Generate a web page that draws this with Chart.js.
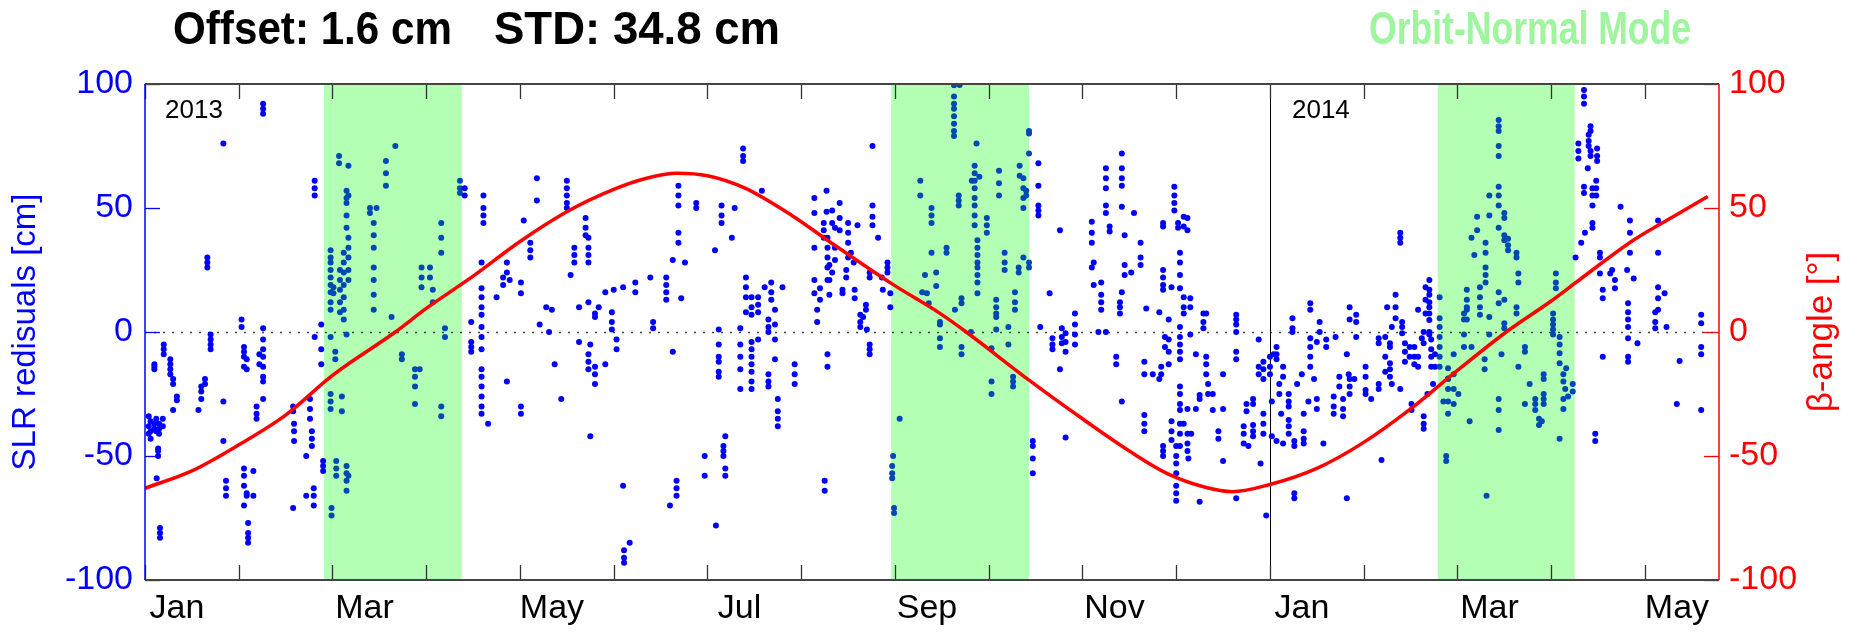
<!DOCTYPE html>
<html>
<head>
<meta charset="utf-8">
<script src="https://cdn.jsdelivr.net/npm/chart.js@4.4.1/dist/chart.umd.min.js"></script>
<style>
  html, body { margin: 0; padding: 0; background: #fff; }
  #wrap { width: 1867px; height: 632px; }
</style>
</head>
<body>
<div id="wrap"><canvas id="c" width="1867" height="632"></canvas></div>
<script>
// x unit = months since 1 Jan 2013
const monthNames = ['Jan','Feb','Mar','Apr','May','Jun','Jul','Aug','Sep','Oct','Nov','Dec'];
const xTickMonths = [0,1,2,3,4,5,6,7,8,9,10,11,12,13,14,15,16];
const yTicks = [-100, -50, 0, 50, 100];

// orbit-normal mode periods (start / end, months)
const onStart = [1.91, 7.96, 13.79];
const onEnd   = [3.38, 9.43, 15.25];

// beta angle
const betaMonth = [0, 0.5, 1.0, 1.5, 2.0, 2.67, 3.0, 3.5, 4.0, 4.5, 5.0, 5.35, 5.67, 6.0, 6.4, 6.9, 7.3, 7.96, 8.48, 8.76, 9.43, 10.0, 10.5, 10.9, 11.3, 11.6, 12.0, 12.5, 13.0, 13.5, 14.0, 14.52, 15.0, 15.25, 15.88, 16.3, 16.67];
const betaDeg   = [-63, -56, -45.5, -33.5, -17.5, 0, 9.5, 22.5, 36.5, 48.5, 57.5, 62, 64, 63, 58, 47, 36.5, 19.6, 7.5, 0, -19.4, -35, -48, -57, -62.5, -64.4, -61.5, -55, -44.5, -31, -15.5, 0, 12.5, 19.6, 37.1, 46.5, 54.6];

// SLR residuals, one entry per pass: [month, cm, cm, ...]
const passesJanApr13 = [
  [0.04,-34,-38,-41],[0.06,-36,-40,-43],[0.1,-13,-14,-15,-37,-39],[0.12,-35,-40],[0.125,-59],
  [0.14,-47,-48,-50],[0.15,-37,-39,-41],[0.16,-79,-81,-83],[0.19,-35,-38],[0.2,-5,-7,-9],
  [0.27,-11,-13,-15,-17],[0.3,-19,-21,-31.5],[0.34,-26,-27.5],[0.57,-31.5],[0.6,-22,-24,-27],
  [0.64,-19,-21],[0.665,30,28,26],[0.7,-1,-3,-5,-7],[0.836,76,-28,-44],[0.864,-60,-63,-66],
  [1.03,5,2],[1.056,-6,-8,-10,-14,-55,-58,-62,-70],[1.085,-11,-15,-65,-66],[1.1,-77,-81,-83,-85],
  [1.156,-56,-66],[1.19,-30,-33,-35],[1.22,-9,-13],[1.26,92,90,88,1.5,-3,-7,-10,-14,-18,-20,-27],
  [1.58,-30,-32,-71],[1.59,-37,-40,-44],[1.72,-50,-66],[1.76,-27,-31,-35],[1.78,-40,-43,-46],
  [1.8,-63,-66,-70],[1.81,61,58,55,-2],[1.88,3,-7,-13],[1.9,-52,-54,-56],
  [1.98,33,30,28,25,22,19,16,12,9,-25,-28,-31,-2],[1.99,-71,-74],[2.01,18,15.6],[2.03,-8,-11],
  [2.04,-52,-55,-58],[2.07,71,68],[2.08,25,21,17,12,8],[2.1,-26,-32],[2.12,32,28,24,19,14,9,5],
  [2.15,57,54,52,47,42,-54,-57,-60,-64,-1],[2.17,67,55,38,30,25,21,34,-58],[2.4,50,48],
  [2.44,44,39,34,26,21,15,9],[2.47,50],[2.57,69,64,59],[2.67,75],[2.63,6],[2.74,-9,-11],
  [2.88,-15,-18,-22,-29],[2.93,-15],[2.95,26,22,18],[3.04,26,22],[3.07,17,12],
  [3.16,44,38,32,-30,-34],[3.2,1.5,-2],[3.36,61,58,56],[3.41,58,55]
];
const passesAprJul13 = [
  [3.48,4,-4,-6,-8],[3.59,28,17.6,14,10,7,2,-2,-7,-15,-18,-22,-26,-30,-33],[3.61,55,50,47,44],
  [3.66,-37],[3.75,14],[3.82,22,19],[3.86,28,24,-20],[3.89,21],[4.01,20,15.6,-30,-33],[4.04,45],
  [4.11,36,33,30],[4.18,62,53],[4.21,3],[4.28,10],[4.31,0],[4.34,9],[4.37,-13],[4.44,-27],
  [4.5,61,58,55,52,50],[4.54,23],[4.58,34,31,28],[4.63,10,-4],[4.7,46,42,39],
  [4.73,38,34,31,28,12,-9,-12,-15],[4.75,-42,-5],[4.8,7.5,6,-14,-17,-21],[4.84,10],[4.91,16,-13],
  [4.98,8,4,1],[5.0,17],[5.03,-3,-7],[5.1,18,-62],[5.11,-88,-91,-93],[5.17,-85],[5.23,20,16],
  [5.39,22],[5.42,4,1.5],[5.56,22,19,16,13],[5.6,-70],[5.63,29,-8],[5.67,-60,-63,-66],
  [5.69,59,55,51,40,36],[5.72,13.6],[5.76,28],[5.88,52,50],[5.97,-50,-58],[6.08,33],[6.09,-78],
  [6.12,1,-5,-10,-12,-16,-18],[6.15,51,47,44],[6.17,-46,-48,-50],[6.19,-42,-55,-58],[6.26,38],
  [6.29,50],[6.35,1.5,-5,-10,-15,-23],[6.38,74,71,69],[6.41,22,18,14,8],
  [6.47,14,10,7,-4,-7,-10,-13,-16,-20,-23],[6.54,14,11,8,-3],[6.58,57],[6.61,18],
  [6.65,5,2,0,-17,-20,-22],[6.68,20,16,13],[6.72,9,3,-3,-11],[6.75,-27,-32,-35,-38],[6.8,18]
];
const passesJulOct13 = [
  [6.93,-13,-17,-21],[7.14,54,48,34,21,15.6],[7.17,9,4],[7.2,17.6,13],[7.24,44,41,38],[7.25,-60,-64],
  [7.27,57,48.5],[7.28,38,34,30,26,21,-9,-14],[7.3,27,21,15],[7.33,49,44,24],[7.36,42,34,29],
  [7.41,52,46,41],[7.44,17,15.6],[7.48,25,22],[7.5,44,40,36,30],[7.53,32],[7.56,28],[7.57,17,13.6],
  [7.6,43],[7.63,7,4,2],[7.66,6],[7.69,11,9],[7.7,1],[7.73,-5,-7,-9,24,22],[7.76,75,51,46.5,43],
  [7.82,38],[7.86,22],[7.87,17],[7.92,28,26,24],[7.95,15.6,10],[7.97,-54,-57,-59],[7.98,-50],
  [7.99,-71,-73],[8.05,-35],[8.27,61,55],[8.29,16],[8.32,23],[8.34,15.6],[8.36,11.6],
  [8.39,50,47,44,32],[8.44,24,18.5],[8.48,4,3,-2.5,-6],[8.55,34,32],[8.63,99.5,95,92,90,87,84,81,79],
  [8.64,9],[8.68,55,53,51],[8.69,99.6],[8.71,13.6,11.6,-6,-9],[8.81,0],[8.82,61],
  [8.85,67,64,61,58,54,51,47,43],[8.87,76],[8.88,37,34,31,28,26,23,20,15.6],[8.9,62.6],
  [8.98,46,43,40],[9.03,-6.6,-20,-25],[9.08,13,10,7.5,6,1],[9.11,65,60,55],[9.17,32,28,25],
  [9.21,2,-5],[9.26,-18,-20,-22],[9.28,16,12,9],[9.32,26,24],[9.33,67,63],[9.37,62,58,54,50,30],
  [9.4,57,55],[9.43,81,80,72,28,26],[9.47,-44,-46,-51,-57],[9.53,68,59,51,49,47],[9.55,2],
  [9.65,15.6],[9.68,-2.5,-5,-7],[9.76,41,-15],[9.78,1.5,-2,-4.5],[9.82,-0.5,-4,-8,-42.5],
  [9.92,7.5,3,-1,-5],[10.1,44.5,40,36,26],[10.12,28,19],[10.17,0]
];
const passesOctJan13 = [
  [10.2,15,12,9,20],[10.25,66,62,58,51,48,0],[10.29,42.5,40.5],[10.36,-10,-13],[10.4,12,10,7.5],
  [10.42,72,66,62,59,50.5,16,-28],[10.45,39,27,23],[10.52,24],[10.55,48],[10.62,36,30,27],
  [10.66,-12,-17,-33.5,-37,-40],[10.68,9.5],[10.75,-17],[10.82,8,-19],[10.84,-14,-17],
  [10.86,44,42.5,25,22,19,17,-46,-48,-50],[10.88,-2,-6],[10.92,5,-3,-8,-13],[10.95,18,-36,-40,-43.5],
  [10.98,58.6,55,52,49],[11.0,-46,-50,-53,-57,-62,-65,-68],[11.02,44,42],
  [11.04,32,28,23,17.6,2,-2,-5,-8,-11,-22,-25,-29,-31.5,-37,-41,-46],[11.08,46.5,42.5,14,10,7.5,-37],
  [11.12,46,41,-31,-41,-45,-48],[11.13,-51],[11.15,13.6,10,-1],[11.16,-41],[11.21,-9,-31],
  [11.25,-25.4,-27,-68.4],[11.29,7.5,4,1.5],[11.32,-10,-13,-17,7.5],[11.34,-21,-25],[11.39,-31.5,-25],
  [11.45,-40,-43],[11.5,-17,-52,-31],[11.64,7,5,3,0,-8,-11,-67],[11.72,-38,-41,-45],[11.75,-29,-32],
  [11.77,-46],[11.82,-27,-29,-37.5,-40,-42],[11.88,-3,-14,-17],[11.9,-53],[11.93,-12,-15,-19,-33,-37,-41],
  [11.96,-74]
];
const passesJanMay14 = [
  [12.0,-10,-14,-17],[12.02,-28,-42],[12.04,-9],[12.07,-44,-6,-9,-11],[12.1,-21,-25],[12.12,-33],
  [12.14,-14,-18,-45],[12.2,-25,-28,-30,-35.5,-38,-41],[12.24,5.5,1.5,0],[12.26,-65,-67,-44,-46],
  [12.29,-21],[12.34,-17],[12.36,-33,-40,-43,-45],[12.41,-28],[12.43,11.6,9,-2.5,-6,-10,-14],
  [12.47,-19],[12.5,-27,-31,-4],[12.53,4,0],[12.57,-45],[12.6,-3,-6],[12.68,-26,-30,-33],[12.7,-2],
  [12.74,-18,-22],[12.78,-27,-31,-34],[12.82,-9,-67],[12.84,-17],[12.85,10,5,-19,-22,-25],
  [12.92,7,4,-2],[12.9,-19],[13.02,-14,-18,-23.4,-25],[13.08,-27],[13.16,-2.5,-4.5,-21,-23],
  [13.19,-51.6],[13.23,-2,-10,-16],[13.25,10],[13.28,-4.5,-6,-12.6,-15,-18],[13.3,-21,2],
  [13.34,15,10,5.5],[13.39,40,38,36,-23],[13.41,4,2,-0.5],[13.44,-4.5,-8,-12],[13.49,-6,-10],
  [13.51,-29,-31.5],[13.54,-6,-10,-13],[13.58,9,-10,-14],[13.62,-2.5],[13.64,-34,-37,-39,0,-4.5],
  [13.66,18,13,7.5],[13.68,-25],[13.7,21,17,15,12,10,7.5,4.8,0,-1],[13.72,-3,-7,-10,-14],[13.74,-21],
  [13.76,-9,-14],[13.81,14,5.5,2,-2,-6,-10,-14],[13.85,-28],[13.88,-50,-52],
  [13.9,-14.6,-18.7,-19,-23,-28,-33],[13.96,-9,-17,-23,-29],[14.01,-25],[14.07,7.5,5,-1,-6],
  [14.1,17,13,9,10,5],[14.13,-36],[14.15,38,-6],[14.18,31],[14.21,46.5,41],[14.24,18,14,10,7],
  [14.29,-11,-15],[14.3,36,32,26,23,20],[14.31,-66],[14.34,55,47,6,-1],
  [14.44,85.5,83,81,75,71,58.6,55,51,42,16,11.6,-27,-31.5,-39.5],[14.47,-9],[14.5,39,37,3.5,1.5,48,46,13],
  [14.54,37.6,35,33],[14.63,32,30,10,7.5],[14.65,23.6,20,-14],[14.72,-6,-8,-29],[14.77,-21],
  [14.83,-27,-29,-31.5],[14.87,-35,-37.5],[14.9,-36],[14.92,-17,-19,-25,-27,-29],[15.02,7.5,5,3,1,-1],
  [15.05,23.6,20,17.6],[15.09,-43,-2,-5,-8.6,-12.6],[15.13,-17,-20,-27,-31],[15.15,-23],[15.16,-14.6],
  [15.18,-26],[15.23,-21,-24],[15.26,30],[15.29,76,73,70],[15.32,36],[15.35,97.6,95,92,58.6,56],
  [15.36,40],[15.39,66],[15.4,79.5,77,75],[15.42,83,81,73,71],[15.44,58,55,51,44,42],[15.47,-41,-44],
  [15.48,61,58,55],[15.49,74,71,69],[15.52,32,30,23.6],[15.55,17,13.6,-10],[15.63,23.6],[15.65,25],
  [15.68,21,17.6],[15.74,50.5],[15.81,25],[15.82,11.6,8,5,2,-2.5,-10,-12],[15.84,45,40,32],[15.88,21.6],
  [15.92,-4.5],[16.11,8,4,1.5],[16.14,45,32,18,13.6,9],[16.21,15.6],[16.23,2],[16.34,-29],[16.37,-11.7],
  [16.6,7,3.5,-6,-9,-31.5]
];

const allPasses = [].concat(passesJanApr13, passesAprJul13, passesJulOct13, passesOctJan13, passesJanMay14);
const slrPoints = [];
allPasses.forEach(p => {
  for (let i = 1; i < p.length; i++) slrPoints.push({x: p[0], y: p[i]});
});
const betaPoints = betaMonth.map((m, i) => ({x: m, y: betaDeg[i]}));

function inOrbitNormal(m) {
  for (let i = 0; i < onStart.length; i++) {
    if (m >= onStart[i] && m <= onEnd[i]) return true;
  }
  return false;
}

const BLUE = '#0000ff';
const RED = '#ff0000';
const LABEL_FONT = '"Liberation Sans", Arial, sans-serif';

// green bands, zero line, box, inside ticks and free texts
const decorations = {
  id: 'decorations',
  beforeDatasetsDraw(chart) {
    const {ctx, chartArea: a, scales} = chart;
    const x = scales.x, y = scales.y;
    ctx.save();
    ctx.fillStyle = '#b3ffb3';
    for (let i = 0; i < onStart.length; i++) {
      const x0 = x.getPixelForValue(onStart[i]);
      const x1 = x.getPixelForValue(onEnd[i]);
      ctx.fillRect(x0, a.top, x1 - x0, a.bottom - a.top);
    }
    // zero line
    const y0 = Math.round(y.getPixelForValue(0)) + 0.5;
    ctx.strokeStyle = '#444';
    ctx.lineWidth = 1.5;
    ctx.setLineDash([2, 7]);
    ctx.beginPath();
    ctx.moveTo(a.left, y0);
    ctx.lineTo(a.right, y0);
    ctx.stroke();
    ctx.setLineDash([]);
    // year boundary
    const xy = Math.round(x.getPixelForValue(12)) + 0.5;
    ctx.strokeStyle = '#000';
    ctx.lineWidth = 1;
    ctx.beginPath();
    ctx.moveTo(xy, a.top);
    ctx.lineTo(xy, a.bottom);
    ctx.stroke();
    ctx.restore();
  },
  afterDatasetsDraw(chart) {
    const {ctx, chartArea: a, scales} = chart;
    const x = scales.x, y = scales.y, y2 = scales.y2;
    const tl = 15;
    ctx.save();
    // x ticks, bottom and top, pointing in
    ctx.strokeStyle = '#333';
    ctx.lineWidth = 1.3;
    xTickMonths.forEach(m => {
      const px = Math.round(x.getPixelForValue(m)) + 0.5;
      ctx.beginPath();
      ctx.moveTo(px, a.bottom); ctx.lineTo(px, a.bottom - tl);
      ctx.moveTo(px, a.top); ctx.lineTo(px, a.top + tl);
      ctx.stroke();
    });
    // y ticks
    yTicks.forEach(v => {
      const py = Math.round(y.getPixelForValue(v)) + 0.5;
      ctx.strokeStyle = BLUE;
      ctx.beginPath(); ctx.moveTo(a.left, py); ctx.lineTo(a.left + tl, py); ctx.stroke();
      const py2 = Math.round(y2.getPixelForValue(v)) + 0.5;
      ctx.strokeStyle = RED;
      ctx.beginPath(); ctx.moveTo(a.right, py2); ctx.lineTo(a.right - tl, py2); ctx.stroke();
    });
    // box
    ctx.strokeStyle = '#444';
    ctx.lineWidth = 2;
    ctx.beginPath();
    ctx.moveTo(a.left, a.top); ctx.lineTo(a.right, a.top);
    ctx.moveTo(a.left, a.bottom); ctx.lineTo(a.right, a.bottom);
    ctx.stroke();
    ctx.lineWidth = 1.5;
    ctx.strokeStyle = BLUE;
    ctx.beginPath(); ctx.moveTo(a.left, a.top); ctx.lineTo(a.left, a.bottom); ctx.stroke();
    ctx.strokeStyle = RED;
    ctx.beginPath(); ctx.moveTo(a.right, a.top); ctx.lineTo(a.right, a.bottom); ctx.stroke();
    // year labels
    ctx.fillStyle = '#000';
    ctx.font = '26px ' + LABEL_FONT;
    ctx.textAlign = 'left';
    ctx.textBaseline = 'alphabetic';
    ctx.fillText('2013', a.left + 20, a.top + 34);
    ctx.fillText('2014', x.getPixelForValue(12) + 22, a.top + 34);
    ctx.restore();
  },
  afterDraw(chart) {
    const {ctx, chartArea: a} = chart;
    ctx.save();
    ctx.textBaseline = 'middle';
    ctx.textAlign = 'left';
    ctx.font = 'bold 46px ' + LABEL_FONT;
    ctx.fillStyle = '#000';
    ctx.fillText('Offset: 1.6 cm', 173, 31, 279);
    ctx.fillText('STD: 34.8 cm', 494, 31, 286);
    ctx.fillStyle = '#9ef59e';
    ctx.fillText('Orbit-Normal Mode', 1369, 31, 322);
    // right axis title, reading bottom to top
    ctx.translate(1822, (a.top + a.bottom) / 2);
    ctx.rotate(-Math.PI / 2);
    ctx.textAlign = 'center';
    ctx.font = '35px ' + LABEL_FONT;
    ctx.fillStyle = RED;
    ctx.fillText('\u03b2-angle [\u00b0]', 0, 0);
    ctx.restore();
  }
};

new Chart(document.getElementById('c'), {
  type: 'scatter',
  data: {
    datasets: [
      {
        label: 'beta',
        data: betaPoints,
        yAxisID: 'y2',
        showLine: true,
        borderColor: RED,
        borderWidth: 3.5,
        pointRadius: 0,
        cubicInterpolationMode: 'monotone',
        order: 0
      },
      {
        label: 'SLR',
        data: slrPoints,
        yAxisID: 'y',
        pointRadius: 3,
        pointBorderWidth: 0,
        pointBackgroundColor: c => inOrbitNormal(c.raw ? c.raw.x : 0) ? '#0048b4' : BLUE,
        order: 1
      }
    ]
  },
  options: {
    responsive: false,
    animation: false,
    devicePixelRatio: 1,
    layout: { padding: { top: 84, left: 0, right: 0, bottom: 0 } },
    plugins: { legend: { display: false }, tooltip: { enabled: false } },
    scales: {
      x: {
        type: 'linear',
        min: 0,
        max: 16.79,
        grid: { display: false, drawTicks: false },
        border: { display: false },
        afterBuildTicks: s => { s.ticks = xTickMonths.map(v => ({value: v})); },
        afterFit: s => { s.height = 52; },
        ticks: {
          autoSkip: false,
          maxRotation: 0,
          padding: 8,
          labelOffset: 32,
          color: '#000',
          font: { family: LABEL_FONT, size: 34 },
          callback: v => (v % 2 === 0 ? monthNames[v % 12] : '')
        }
      },
      y: {
        position: 'left',
        min: -100,
        max: 100,
        grid: { display: false, drawTicks: false },
        border: { display: false },
        afterBuildTicks: s => { s.ticks = yTicks.map(v => ({value: v})); },
        afterFit: s => { s.width = 145; },
        ticks: { padding: 12, color: BLUE, font: { family: LABEL_FONT, size: 34 } },
        title: {
          display: true,
          text: 'SLR redisuals [cm]',
          color: BLUE,
          font: { family: LABEL_FONT, size: 33 },
          padding: { top: 6, bottom: 0 }
        }
      },
      y2: {
        position: 'right',
        min: -100,
        max: 100,
        grid: { display: false, drawTicks: false },
        border: { display: false },
        afterBuildTicks: s => { s.ticks = yTicks.map(v => ({value: v})); },
        afterFit: s => { s.width = 148; },
        ticks: { padding: 10, color: RED, font: { family: LABEL_FONT, size: 34 } }
      }
    }
  },
  plugins: [decorations]
});
</script>
</body>
</html>
